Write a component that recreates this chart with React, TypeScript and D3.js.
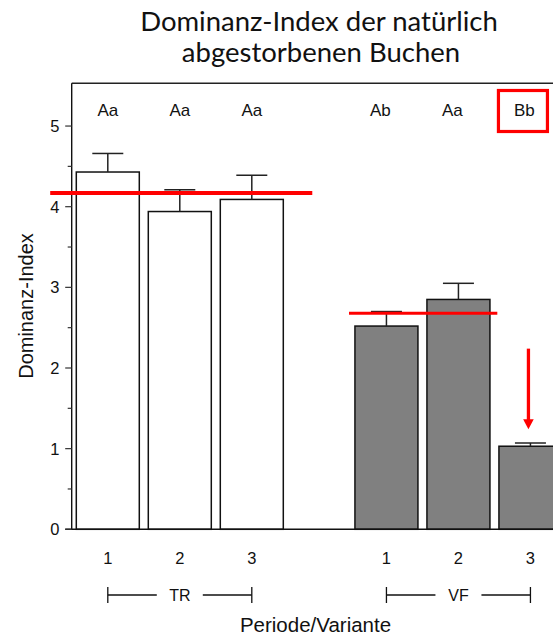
import React from 'react';
import * as d3 from 'd3';

// Dominanz-Index der natürlich abgestorbenen Buchen
const groups = ['TR', 'VF'];
const periods = ['1', '2', '3'];
const means = [4.43, 3.94, 4.09, 2.52, 2.85, 1.03];
const errors = [0.23, 0.27, 0.3, 0.18, 0.2, 0.04];
const letters = ['Aa', 'Aa', 'Aa', 'Ab', 'Aa', 'Bb'];
const fills = ['#ffffff', '#808080'];
const yTicks = [0, 1, 2, 3, 4, 5];
const yMinorTicks = [0.5, 1.5, 2.5, 3.5, 4.5];

// red annotations
const groupMeans = [4.17, 2.68];
const meanLineFrom = [-0.8, -0.52]; // in slots, relative to first bar of group
const meanLineTo = [2.84, 1.54];
const arrowFrom = 2.24;
const arrowTo = 1.24;
const highlighted = 5;

const W = 553;
const H = 635;
const groupStride = 3.87; // slot distance between groups (incl. gap)
const slotPx = 72;
const barW = 63;
const capW = 31;
const font = '"Liberation Sans", Arial, sans-serif';

const slot = (g: number, p: number) => g * groupStride + p;

export default function App() {
  const x = d3.scaleLinear().domain([0, 1]).range([107.8, 107.8 + slotPx]);
  const y = d3.scaleLinear().domain([0, 5.53]).range([529.3, 83.3]);
  const axisX = 71.7;

  const bars = means.map((m, i) => {
    const g = Math.floor(i / periods.length);
    const p = i % periods.length;
    return { m, e: errors[i], g, p, cx: x(slot(g, p)), letter: letters[i] };
  });

  return (
    <svg width={W} height={H} style={{ position: 'absolute', left: 0, top: 0 }}
      fontFamily={font}>
      <rect width={W} height={H} fill="#fff" />
      {/* title */}
      <g fontFamily='Lato, "Open Sans", sans-serif' fontSize={27.5} fill="#111" textAnchor="middle">
        <text x={319} y={30.5}>Dominanz-Index der natürlich</text>
        <text x={321} y={61.5}>abgestorbenen Buchen</text>
      </g>

      {/* bars */}
      {bars.map((b, i) => (
        <rect key={'b' + i} x={b.cx - barW / 2} y={y(b.m)} width={barW} height={y(0) - y(b.m)}
          fill={fills[b.g]} stroke="#111" strokeWidth={1.5} />
      ))}
      {/* error bars */}
      {bars.map((b, i) => (
        <g key={'e' + i} stroke="#222" strokeWidth={1.5}>
          <line x1={b.cx} x2={b.cx} y1={y(b.m)} y2={y(b.m + b.e)} />
          <line x1={b.cx - capW / 2} x2={b.cx + capW / 2} y1={y(b.m + b.e)} y2={y(b.m + b.e)} />
        </g>
      ))}

      {/* frame */}
      <line x1={axisX} x2={W + 10} y1={y(5.53)} y2={y(5.53)} stroke="#222" strokeWidth={1.4} />
      <line x1={axisX} x2={axisX} y1={y(5.53)} y2={y(0)} stroke="#111" strokeWidth={1.4} />
      <line x1={axisX - 6.5} x2={W + 10} y1={y(0)} y2={y(0)} stroke="#111" strokeWidth={1.4} />

      {/* y ticks */}
      {yTicks.map(t => (
        <g key={'t' + t}>
          <line x1={axisX - 6.5} x2={axisX} y1={y(t)} y2={y(t)} stroke="#333" strokeWidth={1.2} />
          <text x={59.5} y={y(t)} dy="0.36em" textAnchor="end" fontSize={16.5} fill="#111">{t}</text>
        </g>
      ))}
      {yMinorTicks.map(t => (
        <line key={'m' + t} x1={axisX - 4} x2={axisX} y1={y(t)} y2={y(t)} stroke="#333" strokeWidth={1.2} />
      ))}
      <text transform={`translate(32.5,306) rotate(-90)`} textAnchor="middle" fontSize={20} fill="#111">
        Dominanz-Index
      </text>

      {/* significance letters */}
      {bars.map((b, i) => (
        <text key={'l' + i} x={b.cx - (b.g === 1 ? 6 : 0)} y={115.5} textAnchor="middle"
          fontSize={17} fill="#111">{b.letter}</text>
      ))}
      {bars.filter((_, i) => i === highlighted).map(b => (
        <rect key="hl" x={b.cx - 6 - 1.5 - 24.5} y={90.5} width={49} height={41}
          fill="none" stroke="#ff0000" strokeWidth={3.2} />
      ))}

      {/* x tick labels */}
      {bars.map((b, i) => (
        <text key={'x' + i} x={b.cx} y={564} textAnchor="middle" fontSize={16.5} fill="#111">
          {periods[b.p]}
        </text>
      ))}

      {/* group brackets */}
      {groups.map((gName, g) => {
        const x0 = x(slot(g, 0));
        const x1 = x(slot(g, periods.length - 1));
        const mid = (x0 + x1) / 2;
        return (
          <g key={gName} stroke="#111" strokeWidth={1.3}>
            <line x1={x0} x2={mid - 23} y1={595} y2={595} />
            <line x1={mid + 23} x2={x1} y1={595} y2={595} />
            <line x1={x0} x2={x0} y1={587} y2={603} />
            <line x1={x1} x2={x1} y1={587} y2={603} />
            <text x={mid} y={600.5} textAnchor="middle" fontSize={16} fill="#111" stroke="none">
              {gName}
            </text>
          </g>
        );
      })}
      <text x={315.5} y={631.5} textAnchor="middle" fontSize={20.5} fill="#111">Periode/Variante</text>

      {/* red annotations */}
      {groupMeans.map((gm, g) => (
        <line key={'r' + g} x1={x(slot(g, meanLineFrom[g]))} x2={x(slot(g, meanLineTo[g]))}
          y1={y(gm)} y2={y(gm)} stroke="#ff0000" strokeWidth={g === 0 ? 4 : 3} />
      ))}
      {(() => {
        const ax = x(slot(1, 2)) - 2;
        const tip = y(arrowTo);
        return (
          <g fill="#ff0000" stroke="#ff0000">
            <line x1={ax} x2={ax} y1={y(arrowFrom)} y2={tip - 8} strokeWidth={3.3} />
            <path d={`M${ax - 5.3},${tip - 10}L${ax + 5.3},${tip - 10}L${ax},${tip}Z`} stroke="none" />
          </g>
        );
      })()}
    </svg>
  );
}
